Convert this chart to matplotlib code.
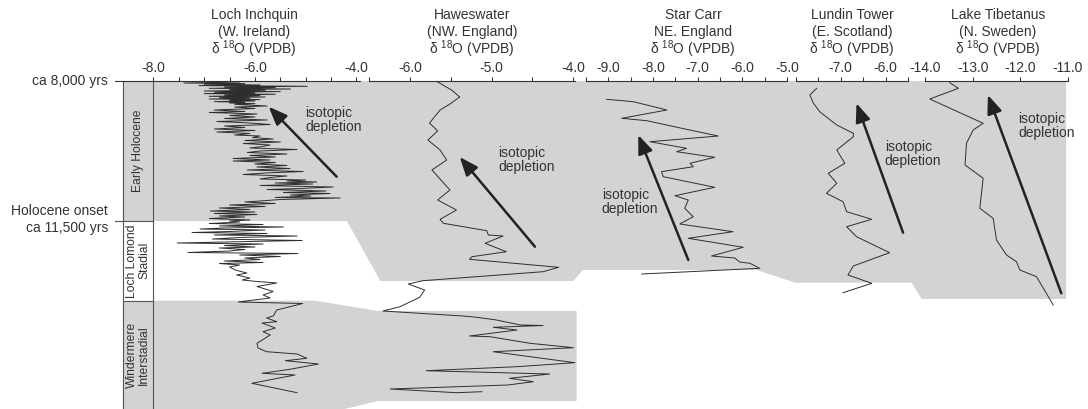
import matplotlib
matplotlib.use("Agg")
import matplotlib.pyplot as plt
from matplotlib.patches import Polygon, Rectangle

plt.rcParams["font.family"] = ["Liberation Sans", "DejaVu Sans"]
plt.rcParams["mathtext.fontset"] = "custom"
plt.rcParams["mathtext.rm"] = "Liberation Sans"
plt.rcParams["mathtext.it"] = "Liberation Sans:italic"
plt.rcParams["axes.unicode_minus"] = False

# ---- records: depth (schematic, 0 = ca 8,000 yrs) and d18O (VPDB) ----
LI_DEPTH = [1, 2, 2.6, 3.2, 4, 4.6, 5.3, 6, 6.6, 7.3, 8, 8.6, 9.3, 10, 10.6, 11.3, 12, 12.6,
            13.3, 14, 14.6, 15.3, 16, 16.6, 17.3, 18, 18.6, 19.3, 20, 20.6, 21.3, 22, 22.6,
            23.3, 25,
            26, 27.5, 29, 30.5, 31.5, 33, 34.5, 36, 37.5, 39, 40.5, 42, 43.5, 45, 46.5, 48,
            49.5, 51, 52.5, 54,
            55, 56.5, 58, 59.5, 61, 62.5, 64, 65.5, 67, 68.5, 70, 71.5, 73, 74.5, 76, 77.5, 79,
            80, 81.5, 83, 84.5, 86, 87.5, 89, 90.5, 92, 93.5, 95, 96.5, 98,
            99, 100, 101, 102, 103, 104.5, 106, 107.5, 108.5, 110, 111.5, 112.5, 114, 115,
            116.5, 117, 118.5, 120,
            121, 122.5, 124, 125.5, 127, 128.5, 130, 131, 132.5, 133.5, 135, 136, 137.5, 139, 140,
            141, 142.5, 143.5, 145, 146, 147, 148, 149, 150.5, 151.5, 152.5, 154, 155, 156.5,
            158, 159.5, 160.5, 162, 163, 164.5, 166, 167, 168.5, 170, 171.5, 172.5, 174, 175.5,
            177, 178.5, 180, 181.5, 182.5, 184,
            186, 189, 192, 194, 197, 199, 200.5, 202, 205.5, 210.5, 214, 217, 221, 222.5,
            229, 235, 237, 240.7, 242, 247, 250.7, 254, 262.3, 267, 270.7, 273, 277.3, 279.7,
            283, 288.3, 292.3, 294, 302.3, 311.7]
LI_D18O = [-6.3, -7.4, -6.2, -7.0, -5.9, -7.1, -4.97, -6.6, -5.6, -6.9, -5.3, -6.5, -5.8, -7.0,
           -5.5, -6.8, -6.0, -7.0, -5.6, -6.6, -5.9, -6.9, -5.8, -6.7, -6.1, -6.9, -5.9, -6.5,
           -6.0, -6.8, -6.2, -6.5, -6.0, -6.4, -5.76,
           -6.4, -6.0, -6.8, -6.2, -6.9, -5.96, -6.5, -6.0, -6.6, -5.76, -6.75, -6.1, -5.7,
           -6.6, -6.2, -6.8, -6.0, -6.75, -6.1, -6.4,
           -5.9, -6.05, -5.64, -6.2, -5.5, -6.23, -5.7, -5.86, -6.1, -5.17, -5.9, -6.15,
           -5.37, -6.1, -5.6, -6.43, -5.7,
           -6.43, -5.6, -6.0, -5.37, -5.96, -5.31, -6.15, -5.05, -5.8, -6.23, -5.37, -5.7, -5.9,
           -5.0, -5.37, -4.78, -5.6, -4.86, -5.9, -4.46, -5.1, -5.76, -4.6, -5.44, -4.52,
           -5.3, -4.9, -5.6, -4.32, -5.5, -5.9,
           -6.2, -5.6, -6.5, -5.8, -6.7, -6.1, -6.88, -6.0, -6.8, -5.96, -6.7, -6.2, -6.9,
           -6.1, -6.5,
           -6.3, -6.9, -5.84, -6.7, -5.44, -6.6, -7.08, -5.8, -6.5, -7.24, -5.76, -6.8, -5.17,
           -6.3, -6.84, -5.07, -6.1, -7.53, -5.84, -6.6, -6.0, -6.7, -6.2, -6.5, -7.32, -5.15,
           -6.3, -5.5, -6.2, -5.9, -6.6, -5.84, -6.7, -6.3,
           -6.5, -6.39, -6.16, -6.36, -6.1, -6.25, -5.96, -5.57, -5.96, -5.64, -5.84, -5.70,
           -6.33, -5.06,
           -5.57, -5.64, -5.77, -5.57, -5.86, -5.60, -5.84, -5.70, -5.96, -5.94, -5.77, -5.17,
           -4.98, -5.40, -4.75, -5.31, -5.86, -5.21, -6.06, -5.17]

HW_DEPTH = [1, 9, 16, 23, 29, 42, 50, 59, 69, 79, 89, 99, 109, 119, 129, 138.3, 142.3,
            149.7, 154, 155, 162.3, 170.7, 175.7, 178.3, 186.3, 190.7, 199.7, 203, 209,
            216.3, 225.7, 230, 235, 236.3, 239, 244, 244.5, 246.3, 249, 255, 255.7, 262.3,
            266.7, 270.7, 275.7, 281.7, 285.7, 289.7, 293, 297.3, 300.7, 304, 308, 311.7, 310.7]
HW_D18O = [-5.66, -5.49, -5.39, -5.51, -5.63, -5.76, -5.66, -5.78, -5.63, -5.55, -5.73,
           -5.62, -5.51, -5.66, -5.43, -5.63, -5.59, -5.06, -5.04, -4.86, -5.08, -4.82,
           -5.24, -5.27, -4.18, -4.37, -5.84, -6.02, -5.82, -5.88, -6.12, -6.33, -5.35,
           -5.18, -4.94, -4.65, -4.37, -4.98, -4.69, -5.27, -5.02, -4.53, -4.0, -4.98,
           -4.53, -3.98, -4.69, -5.80, -4.29, -4.78, -4.49, -4.80, -6.24, -5.43, -5.12]

SC_DEPTH = [18.3, 20.7, 29, 37.3, 39.7, 48.3, 55, 60.7, 67.3, 70.7, 76.3, 82.3, 85.7, 90.7,
            95.7, 106.3, 114.7, 119, 127.3, 135.7, 143, 150.7, 157.3, 166.3, 175, 177, 181,
            182.3, 187.3, 193]
SC_D18O = [-9.04, -8.44, -7.69, -8.70, -8.14, -7.25, -6.54, -8.07, -7.25, -7.47, -6.62, -7.17,
           -7.10, -7.81, -7.77, -6.62, -7.51, -7.21, -7.29, -7.10, -7.40, -6.21, -7.21, -5.98,
           -6.69, -6.17, -6.06, -5.83, -5.61, -8.25]

LT_DEPTH = [7.3, 14, 22.3, 30.7, 44, 52.3, 55.7, 69, 82.3, 92.3, 102.3, 112.3, 120.7, 130.7,
            138.3, 145.7, 155.7, 171.7, 185, 194, 202.3, 211.7]
LT_D18O = [-7.54, -7.69, -7.61, -7.47, -7.09, -6.72, -6.72, -7.09, -6.91, -7.28, -7.09, -7.32,
           -6.95, -6.87, -6.31, -6.87, -6.65, -5.91, -6.72, -6.84, -6.31, -6.95]

TB_DEPTH = [1.7, 7.3, 18, 42.3, 49, 62.3, 84, 97.3, 127.3, 137.3, 159, 174, 180.7, 189,
            195.7, 224]
TB_D18O = [-13.48, -13.30, -13.90, -12.78, -12.99, -13.13, -13.16, -12.78, -12.85, -12.57,
           -12.50, -12.29, -12.08, -12.01, -11.66, -11.31]

SITES = ["Loch Inchquin", "Haweswater", "Star Carr", "Lundin Tower", "Lake Tibetanus"]
REGIONS = ["(W. Ireland)", "(NW. England)", "NE. England", "(E. Scotland)", "(N. Sweden)"]
XLIMS = [(-8.6, -3.93), (-6.5, -3.98), (-9.5, -5.0), (-8.0, -5.5), (-14.0, -11.0)]
TICK_STEP = [0.5, 0.5, 0.5, 0.5, 1.0]
TICK_RANGE = [(-8.0, -4.0), (-6.5, -4.0), (-9.5, -5.0), (-8.0, -5.5), (-14.0, -11.0)]
LABELLED = [[-8.0, -6.0, -4.0], [-6.0, -5.0, -4.0], [-9.0, -8.0, -7.0, -6.0, -5.0],
            [-7.0, -6.0], [-14.0, -13.0, -12.0, -11.0]]

# gray Holocene band in each record: (start value, end value, base depth)
HOLOCENE_BAND = [(-8.0, -4.19, 140), (-6.36, -4.0, 200), (-9.57, -5.68, 189),
                 (-8.02, -5.42, 201.7), (-14.07, -11.04, 218)]
# Windermere Interstadial band: (start, end, top depth, base depth)
INTERSTADIAL_BAND = [(-8.0, -4.81, 219.7, 335), (-6.39, -3.96, 230, 320)]

# depletion arrows: (tail value, tail depth, head value, head depth)
ARROWS = [(-4.39, 95.7, -5.73, 25.7), (-4.47, 165.7, -5.39, 76), (-7.21, 179, -8.33, 54),
          (-5.61, 151.7, -6.65, 22.3), (-11.14, 212.3, -12.68, 14)]
ARROW_TEXT = [(-5.01, 39.5), (-4.92, 78.5), (-9.15, 121.5), (-6.02, 73.5), (-12.05, 44.5)]

ZONES = [("Early Holocene", 0, 140, "#d3d3d3"),
         ("Loch Lomond\nStadial", 140, 219.7, "white"),
         ("Windermere\nInterstadial", 219.7, 330, "#d3d3d3")]

# ---- layout ----
W, H = 1088, 409
TOP = 81
PANEL_PX = [(123, 360), (369, 575), (586, 787), (796, 908), (925, 1068)]
TITLE_X = [254, 472, 693, 852, 998]
GRAY = "#d3d3d3"
INK = "#333333"

fig = plt.figure(figsize=(W / 100, H / 100), dpi=100)
axes = []
for (x0, x1), xl, rng, step, lab in zip(PANEL_PX, XLIMS, TICK_RANGE, TICK_STEP, LABELLED):
    ax = fig.add_axes([x0 / W, 0, (x1 - x0) / W, (H - TOP) / H])
    ax.set_xlim(*xl)
    ax.set_ylim(H - TOP, 0)
    ax.patch.set_visible(False)
    n = int(round((rng[1] - rng[0]) / step))
    ticks = [rng[0] + i * step for i in range(n + 1)]
    ax.set_xticks(ticks)
    ax.set_xticklabels([f"{t:.1f}" if any(abs(t - l) < 1e-6 for l in lab) else "" for t in ticks])
    ax.xaxis.set_ticks_position("top")
    ax.tick_params(axis="x", direction="out", length=3, width=0.8, pad=1.5,
                   labelsize=10, colors=INK)
    ax.set_yticks([])
    for side in ("left", "right", "bottom"):
        ax.spines[side].set_visible(False)
    ax.spines["top"].set_color(INK)
    ax.spines["top"].set_linewidth(0.8)
    axes.append(ax)

inv = fig.transFigure.inverted()


def to_fig(ax, v, d):
    return inv.transform(ax.transData.transform((v, d)))


# gray bands behind all records
upper = [to_fig(axes[0], HOLOCENE_BAND[0][0], 0), to_fig(axes[-1], HOLOCENE_BAND[-1][1], 0)]
for ax, (s, e, base) in reversed(list(zip(axes, HOLOCENE_BAND))):
    upper += [to_fig(ax, e, base), to_fig(ax, s, base)]
fig.add_artist(Polygon(upper, closed=True, transform=fig.transFigure,
                       facecolor=GRAY, edgecolor="none", zorder=-1))

(s1, e1, t1, b1), (s2, e2, t2, b2) = INTERSTADIAL_BAND
lower = [to_fig(axes[0], s1, t1), to_fig(axes[0], e1, t1), to_fig(axes[1], s2, t2),
         to_fig(axes[1], e2, t2), to_fig(axes[1], e2, b2), to_fig(axes[1], s2, b2),
         to_fig(axes[0], e1, b1), to_fig(axes[0], s1, b1)]
fig.add_artist(Polygon(lower, closed=True, transform=fig.transFigure,
                       facecolor=GRAY, edgecolor="none", zorder=-1))

# stratigraphic column on the left of Loch Inchquin
ax0 = axes[0]
for name, d0, d1, fc in ZONES:
    ax0.add_patch(Rectangle((-8.6, d0), 0.6, d1 - d0, facecolor=fc, edgecolor="none",
                            clip_on=False, zorder=1))
    ax0.text(-8.3, (d0 + min(d1, H - TOP)) / 2, name, rotation=90, ha="center", va="center",
             fontsize=8.7, color=INK, multialignment="center", linespacing=1.0)
ax0.plot([-8.6, -8.6], [0, H - TOP + 5], color="#555555", lw=0.8, clip_on=False, zorder=2)
ax0.plot([-8.0, -8.0], [0, H - TOP + 5], color="#555555", lw=0.8, clip_on=False, zorder=2)
ax0.plot([-8.6, -8.0], [219.7, 219.7], color="#555555", lw=0.8, clip_on=False, zorder=2)
ax0.plot([-8.75, -8.0], [140, 140], color="#555555", lw=0.8, clip_on=False, zorder=2)
ax0.plot([-8.75, -8.6], [0, 0], color=INK, lw=0.8, clip_on=False, zorder=2)

# records
records = [(LI_D18O, LI_DEPTH), (HW_D18O, HW_DEPTH), (SC_D18O, SC_DEPTH),
           (LT_D18O, LT_DEPTH), (TB_D18O, TB_DEPTH)]
for ax, (vals, depth) in zip(axes, records):
    ax.plot(vals, depth, color="#2e2e2e", lw=0.7, zorder=3, clip_on=False)

for ax, (tv, td, hv, hd), (txv, txd) in zip(axes, ARROWS, ARROW_TEXT):
    ax.annotate("", xy=(hv, hd), xytext=(tv, td),
                arrowprops=dict(arrowstyle="-|>,head_length=0.7,head_width=0.28",
                                lw=1.8, color="#222222", mutation_scale=16,
                                shrinkA=0, shrinkB=0),
                annotation_clip=False, zorder=4)
    ax.text(txv, txd, "isotopic\ndepletion", ha="left", va="center", fontsize=10,
            color=INK, linespacing=1.0, zorder=4)

# titles
for x, site, region in zip(TITLE_X, SITES, REGIONS):
    fig.text(x / W, 1 - 15 / H, site, ha="center", va="center", fontsize=10, color=INK)
    fig.text(x / W, 1 - 32 / H, region, ha="center", va="center", fontsize=10, color=INK)
    fig.text(x / W, 1 - 49 / H, r"δ $^{18}$O (VPDB)", ha="center", va="center",
             fontsize=10, color=INK)

# age labels
fig.text(108 / W, 1 - 81 / H, "ca 8,000 yrs", ha="right", va="center", fontsize=10, color=INK)
fig.text(108 / W, 1 - 211 / H, "Holocene onset", ha="right", va="center", fontsize=10,
         color=INK)
fig.text(108 / W, 1 - 228 / H, "ca 11,500 yrs", ha="right", va="center", fontsize=10,
         color=INK)

fig.savefig("out.png", dpi=100)
